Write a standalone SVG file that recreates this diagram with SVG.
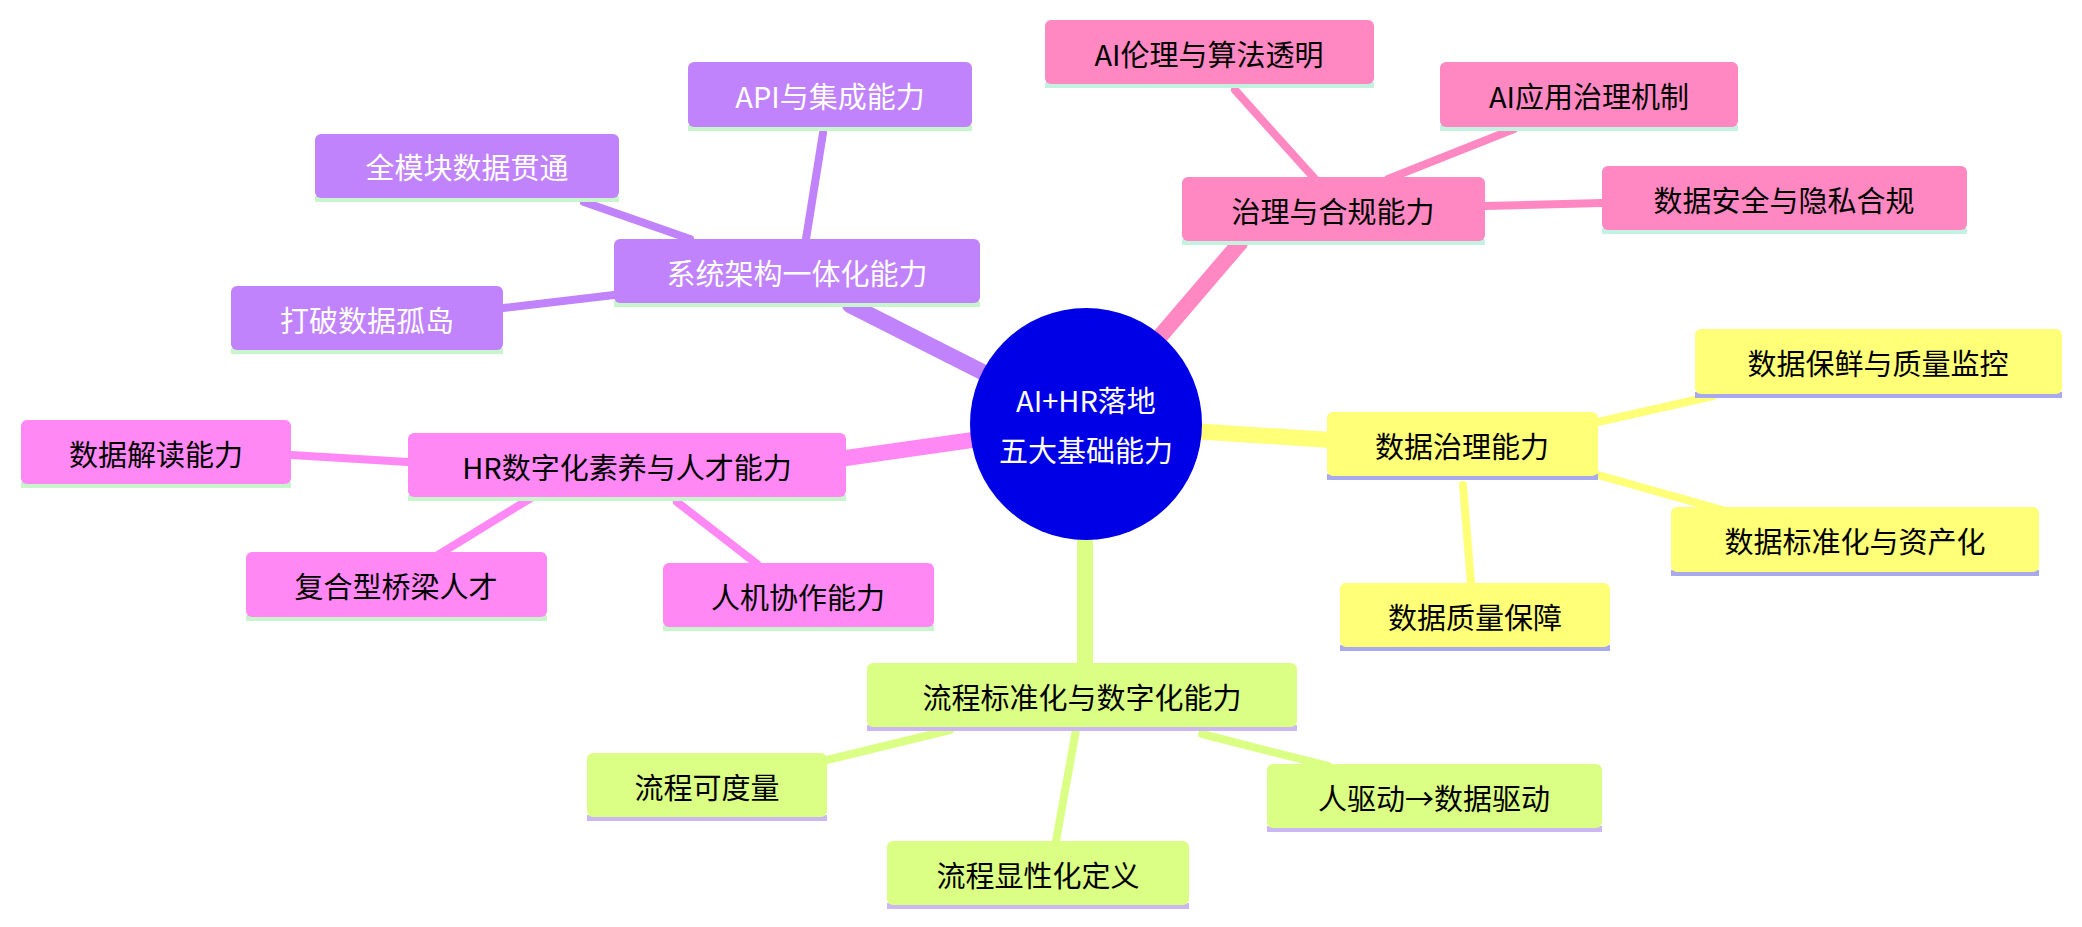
<svg xmlns="http://www.w3.org/2000/svg" width="2082" height="927" viewBox="0 0 2082 927">
<style>
text{font-family:"Noto Sans CJK SC","Noto Sans",sans-serif;font-size:29px;text-anchor:middle;dominant-baseline:central}
.w{fill:#fff}.k{fill:#000}
.pu{fill:#c183fb}.pk{fill:#ff88c2}.ye{fill:#ffff78}.gr{fill:#dbff85}.ma{fill:#ff88f5}
.b1{fill:#c8f5cc}.b2{fill:#c4f2e0}.b3{fill:#a9a9ee}.b4{fill:#cbb8f2}
#edges line{stroke-linecap:round;fill:none}
</style>
<rect width="2082" height="927" fill="#fff"/>
<g id="edges">
<g stroke="#c183fb"><line x1="1085" y1="424" x2="850" y2="305" stroke-width="16"/><line x1="823" y1="133" x2="806" y2="239" stroke-width="8"/><line x1="584" y1="202" x2="690" y2="239" stroke-width="8"/><line x1="503" y1="308" x2="614" y2="295" stroke-width="8"/></g>
<g stroke="#ff88c2"><line x1="1085" y1="424" x2="1240" y2="243" stroke-width="16"/><line x1="1235" y1="90" x2="1315" y2="179" stroke-width="8"/><line x1="1514" y1="129" x2="1388" y2="179" stroke-width="8"/><line x1="1602" y1="203" x2="1485" y2="206" stroke-width="8"/></g>
<g stroke="#ffff78"><line x1="1085" y1="424" x2="1330" y2="440" stroke-width="16"/><line x1="1713" y1="396" x2="1598" y2="422" stroke-width="8"/><line x1="1726" y1="511" x2="1598" y2="475" stroke-width="8"/><line x1="1463" y1="485" x2="1471" y2="584" stroke-width="8"/></g>
<g stroke="#dbff85"><line x1="1085" y1="424" x2="1085" y2="665" stroke-width="16"/><line x1="827" y1="760" x2="950" y2="730" stroke-width="8"/><line x1="1076" y1="730" x2="1056" y2="841" stroke-width="8"/><line x1="1202" y1="734" x2="1328" y2="766" stroke-width="8"/></g>
<g stroke="#ff88f5"><line x1="1085" y1="424" x2="846" y2="458" stroke-width="16"/><line x1="291" y1="455" x2="408" y2="462" stroke-width="8"/><line x1="438" y1="555" x2="531" y2="498" stroke-width="8"/><line x1="757" y1="564" x2="677" y2="502" stroke-width="8"/></g>
</g>
<g id="center"><circle cx="1086" cy="424" r="116" fill="#0000e6"/><text class="w" x="1086" y="399">AI+HR落地</text><text class="w" x="1086" y="449">五大基础能力</text></g>
<g id="n1"><rect class="b1" x="614" y="301" width="366" height="6"/><rect class="pu" x="614" y="239" width="366" height="64" rx="6"/><text class="w" x="797" y="272">系统架构一体化能力</text></g>
<g id="n1a"><rect class="b1" x="688" y="125" width="284" height="6"/><rect class="pu" x="688" y="62" width="284" height="65" rx="6"/><text class="w" x="830" y="95">API与集成能力</text></g>
<g id="n1b"><rect class="b1" x="315" y="196" width="304" height="6"/><rect class="pu" x="315" y="134" width="304" height="64" rx="6"/><text class="w" x="467" y="166">全模块数据贯通</text></g>
<g id="n1c"><rect class="b1" x="231" y="348" width="272" height="6"/><rect class="pu" x="231" y="286" width="272" height="64" rx="6"/><text class="w" x="367" y="319">打破数据孤岛</text></g>
<g id="n2"><rect class="b2" x="1182" y="239" width="303" height="6"/><rect class="pk" x="1182" y="177" width="303" height="64" rx="6"/><text class="k" x="1333" y="210">治理与合规能力</text></g>
<g id="n2a"><rect class="b2" x="1045" y="82" width="329" height="6"/><rect class="pk" x="1045" y="20" width="329" height="64" rx="6"/><text class="k" x="1209" y="53">AI伦理与算法透明</text></g>
<g id="n2b"><rect class="b2" x="1440" y="125" width="298" height="6"/><rect class="pk" x="1440" y="62" width="298" height="65" rx="6"/><text class="k" x="1589" y="95">AI应用治理机制</text></g>
<g id="n2c"><rect class="b2" x="1602" y="228" width="365" height="6"/><rect class="pk" x="1602" y="166" width="365" height="64" rx="6"/><text class="k" x="1784" y="199">数据安全与隐私合规</text></g>
<g id="n3"><rect class="b3" x="1327" y="474" width="271" height="6"/><rect class="ye" x="1327" y="412" width="271" height="64" rx="6"/><text class="k" x="1462" y="445">数据治理能力</text></g>
<g id="n3a"><rect class="b3" x="1695" y="392" width="367" height="6"/><rect class="ye" x="1695" y="329" width="367" height="65" rx="6"/><text class="k" x="1878" y="362">数据保鲜与质量监控</text></g>
<g id="n3b"><rect class="b3" x="1671" y="570" width="368" height="6"/><rect class="ye" x="1671" y="507" width="368" height="65" rx="6"/><text class="k" x="1855" y="540">数据标准化与资产化</text></g>
<g id="n3c"><rect class="b3" x="1340" y="645" width="270" height="6"/><rect class="ye" x="1340" y="583" width="270" height="64" rx="6"/><text class="k" x="1475" y="616">数据质量保障</text></g>
<g id="n4"><rect class="b4" x="867" y="725" width="430" height="6"/><rect class="gr" x="867" y="663" width="430" height="64" rx="6"/><text class="k" x="1082" y="696">流程标准化与数字化能力</text></g>
<g id="n4a"><rect class="b4" x="587" y="815" width="240" height="6"/><rect class="gr" x="587" y="753" width="240" height="64" rx="6"/><text class="k" x="707" y="786">流程可度量</text></g>
<g id="n4b"><rect class="b4" x="887" y="903" width="302" height="6"/><rect class="gr" x="887" y="841" width="302" height="64" rx="6"/><text class="k" x="1038" y="874">流程显性化定义</text></g>
<g id="n4c"><rect class="b4" x="1267" y="826" width="335" height="6"/><rect class="gr" x="1267" y="764" width="335" height="64" rx="6"/><text class="k" x="1434" y="797">人驱动→数据驱动</text></g>
<g id="n5"><rect class="b1" x="408" y="495" width="438" height="6"/><rect class="ma" x="408" y="433" width="438" height="64" rx="6"/><text class="k" x="627" y="466">HR数字化素养与人才能力</text></g>
<g id="n5a"><rect class="b1" x="21" y="482" width="270" height="6"/><rect class="ma" x="21" y="420" width="270" height="64" rx="6"/><text class="k" x="156" y="453">数据解读能力</text></g>
<g id="n5b"><rect class="b1" x="246" y="615" width="301" height="6"/><rect class="ma" x="246" y="552" width="301" height="65" rx="6"/><text class="k" x="396" y="585">复合型桥梁人才</text></g>
<g id="n5c"><rect class="b1" x="663" y="625" width="271" height="6"/><rect class="ma" x="663" y="563" width="271" height="64" rx="6"/><text class="k" x="798" y="596">人机协作能力</text></g>
</svg>
